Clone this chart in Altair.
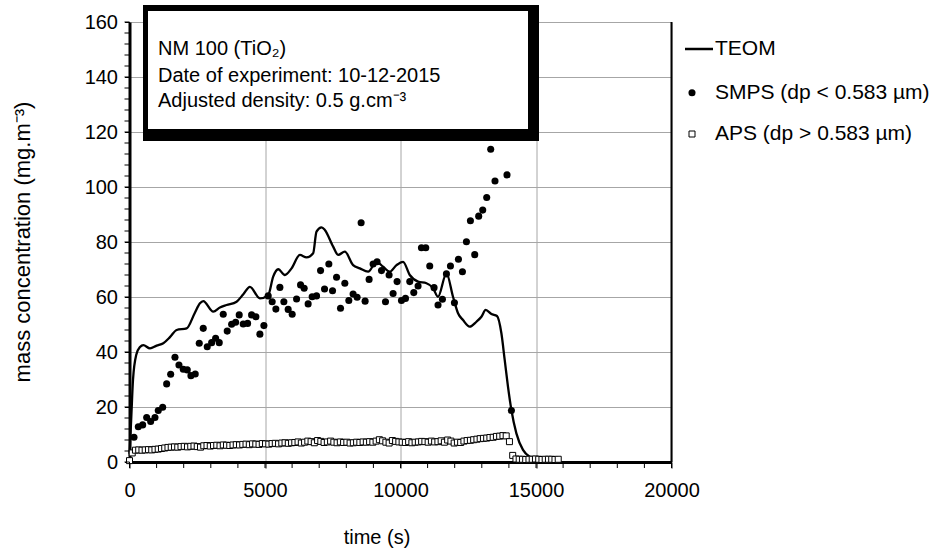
import altair as alt
import pandas as pd

# ---------------- data ----------------
teom_t = [0, 60, 130, 250, 387, 510, 756, 1000, 1247, 1500, 1740, 2109, 2400, 2600, 2722,
          3090, 3337, 3583, 3952, 4200, 4443, 4812, 5118, 5302, 5487, 5733, 5980, 6287,
          6533, 6777, 6900, 7086, 7208, 7515, 7700, 7946, 8251, 8499, 8806, 9114, 9358,
          9605, 9852, 10095, 10342, 10648, 10958, 11201, 11385, 11695, 11938, 12123,
          12307, 12554, 12801, 12986, 13144, 13354, 13561, 13723, 13845, 13966, 14092,
          14276, 14520, 14766, 15013, 15100]
teom_c = [3.0, 15.0, 30.0, 39.0, 41.8, 42.5, 41.3, 42.3, 43.2, 45.5, 48.0, 48.6, 54.0, 57.7, 58.5,
          54.7, 56.2, 57.1, 58.3, 61.0, 63.7, 59.5, 60.7, 67.4, 70.1, 68.0, 70.4, 75.3,
          74.4, 75.9, 83.8, 85.3, 84.4, 78.3, 75.3, 76.5, 71.6, 70.4, 69.2, 72.8, 71.0,
          69.2, 71.6, 72.8, 68.0, 65.6, 65.0, 63.2, 60.1, 68.6, 60.1, 54.1,
          51.6, 49.2, 51.0, 52.8, 55.3, 53.8, 53.1, 46.8, 37.1, 27.4, 18.9,
          10.4, 4.4, 1.9, 1.0, 0.6]

smps_t = [166, 325, 486, 634, 781, 940, 1062, 1224, 1371, 1519,
          1678, 1825, 1984, 2131, 2267, 2426, 2574, 2721, 2869, 3031,
          3178, 3311, 3459, 3606, 3768, 3916, 4048, 4196, 4358, 4505,
          4664, 4812, 4959, 5118, 5265, 5401, 5549, 5696, 5855, 6003,
          6165, 6312, 6445, 6592, 6740, 6902, 7050, 7197, 7356, 7492,
          7640, 7787, 7946, 8093, 8251, 8399, 8547, 8694, 8842, 8989,
          9136, 9299, 9446, 9579, 9727, 9874, 10036, 10184, 10342, 10490,
          10648, 10773, 10932, 11079, 11238, 11385, 11547, 11695, 11843, 11990,
          12138, 12285, 12433, 12580, 12739, 12886, 13034, 13181, 13329, 13487,
          13930, 14092]
smps_c = [9.0, 12.8, 13.5, 16.2, 14.7, 16.2, 18.7, 19.9, 28.4, 31.9,
          38.1, 35.3, 33.7, 33.5, 31.4, 32.0, 43.2, 48.6, 41.9, 43.4,
          45.0, 43.4, 53.7, 47.6, 50.1, 50.8, 53.5, 50.2, 50.4, 53.5,
          52.8, 46.5, 49.6, 60.4, 58.3, 55.6, 63.5, 58.3, 55.5, 53.7,
          59.3, 64.4, 63.2, 57.5, 60.1, 60.4, 69.6, 62.9, 72.0, 62.3,
          67.2, 55.9, 65.0, 58.7, 61.1, 59.9, 87.0, 58.5, 66.4, 72.0,
          72.8, 69.6, 58.3, 68.0, 61.3, 65.6, 58.7, 59.5, 65.6, 61.6,
          64.0, 77.9, 77.9, 71.3, 63.4, 57.1, 59.2, 68.4, 71.3, 57.9,
          73.7, 69.2, 80.1, 87.7, 75.4, 89.4, 91.6, 96.2, 113.7, 102.2,
          104.4, 18.7]

aps_t = [0, 100,
         220, 340, 460, 580, 700, 820, 940, 1060,
         1180, 1300, 1420, 1540, 1660, 1780, 1900, 2020,
         2140, 2260, 2380, 2500, 2620, 2740, 2860, 2980,
         3100, 3220, 3340, 3460, 3580, 3700, 3820, 3940,
         4060, 4180, 4300, 4420, 4540, 4660, 4780, 4900,
         5020, 5140, 5260, 5380, 5500, 5620, 5740, 5860,
         5980, 6100, 6220, 6340, 6460, 6580, 6700, 6820,
         6940, 7060, 7180, 7300, 7420, 7540, 7660, 7780,
         7900, 8020, 8140, 8260, 8380, 8500, 8620, 8740,
         8860, 8980, 9100, 9220, 9340, 9460, 9580, 9700,
         9820, 9940, 10060, 10180, 10300, 10420, 10540, 10660,
         10780, 10900, 11020, 11140, 11260, 11380, 11500, 11620,
         11740, 11860, 11980, 12100, 12220, 12340, 12460, 12580,
         12700, 12820, 12940, 13060, 13180, 13300, 13420, 13540,
         13660, 13780, 13900, 14020,
         14140,
         14260, 14380, 14500, 14620, 14740, 14860, 14980, 15100,
         15220, 15340, 15460, 15580, 15700, 15820]
aps_c = [0.5, 3.3,
         4.3, 4.4, 4.3, 4.4, 4.5, 4.4, 4.6, 4.7,
         4.9, 5.1, 5.3, 5.4, 5.5, 5.4, 5.6, 5.7,
         5.5, 5.7, 5.8, 5.6, 5.4, 5.9, 6.0, 5.8,
         6.0, 6.1, 5.9, 6.2, 6.1, 6.0, 6.2, 6.3,
         6.2, 6.4, 6.5, 6.3, 6.6, 6.5, 6.4, 6.7,
         6.6, 6.5, 6.7, 6.8, 6.6, 6.9, 7.0, 6.8,
         7.0, 7.1, 7.3, 6.9, 7.2, 7.6, 7.4, 7.0,
         7.8, 7.5, 7.1, 7.3, 7.6, 7.2, 7.0, 7.3,
         7.1, 7.2, 6.9, 7.0, 7.2, 7.1, 7.3, 7.2,
         7.4, 7.2, 7.6, 8.1, 7.7, 7.2, 6.9, 7.8,
         7.5, 7.3, 7.2, 7.1, 7.4, 7.0, 7.2, 7.3,
         7.5, 7.4, 7.2, 7.6, 7.3, 7.4, 7.7, 7.2,
         8.0, 7.6, 6.9, 7.2, 7.1, 7.6, 7.8, 7.9,
         8.1, 8.3, 8.5, 8.6, 8.7, 8.9, 9.0, 9.3,
         9.4, 9.6, 9.5, 7.4,
         2.4,
         1.1, 1.0, 1.0, 0.9, 1.0, 1.0, 1.1, 1.0,
         0.9, 1.0, 1.0, 1.0, 0.9, 1.0]

x_tick_values = [0, 5000, 10000, 15000, 20000]
y_tick_values = [0, 20, 40, 60, 80, 100, 120, 140, 160]
x_minor_ticks = [i * 1000 for i in range(21)]
y_minor_ticks = [i * 4 for i in range(41)]

box_lines = ["NM 100 (TiO\u2082)", "Date of experiment: 10-12-2015",
             "Adjusted density: 0.5 g.cm\u207b\u00b3"]
legend_labels = ["TEOM", "SMPS (dp < 0.583 \u00b5m)", "APS (dp > 0.583 \u00b5m)"]
x_title = "time (s)"
y_title = "mass concentration (mg.m\u207b\u00b3)"

# ---------------- chart ----------------
W, H = 542, 440
FONT = "Liberation Sans"
FS = 20

n = min(len(aps_t), len(aps_c))
teom = pd.DataFrame({"t": teom_t, "c": teom_c})
smps = pd.DataFrame({"t": smps_t, "c": smps_c})
aps = pd.DataFrame({"t": aps_t[:n], "c": aps_c[:n]})
xminor = pd.DataFrame({"t": x_minor_ticks})
yminor = pd.DataFrame({"c": y_minor_ticks})
one = pd.DataFrame({"k": [0]})

xscale = alt.Scale(domain=[0, 20000], nice=False, zero=False)
yscale = alt.Scale(domain=[0, 160], nice=False)

xaxis = alt.Axis(values=x_tick_values, format="d", grid=True, gridColor="#a6a6a6",
                 gridWidth=1, domainColor="black", domainWidth=3, tickColor="black",
                 tickSize=6, tickWidth=1, labelFont=FONT, labelFontSize=FS,
                 labelColor="black", labelPadding=12, labelFlush=False, title=None)
yaxis = alt.Axis(values=y_tick_values, format="d", grid=True, gridColor="#a6a6a6",
                 gridWidth=1, domainColor="black", domainWidth=3, tickColor="black",
                 tickSize=5, tickWidth=1, labelFont=FONT, labelFontSize=FS,
                 labelColor="black", labelPadding=7, labelFlush=False, title=None)

X = alt.X("t:Q", scale=xscale, axis=xaxis)
Y = alt.Y("c:Q", scale=yscale, axis=yaxis)

aps_layer = alt.Chart(aps).mark_point(shape="square", size=36, filled=True, fill="white",
                                      stroke="black", strokeWidth=1, opacity=1).encode(x=X, y=Y)
smps_layer = alt.Chart(smps).mark_circle(size=50, color="black", opacity=1).encode(x=X, y=Y)
teom_layer = alt.Chart(teom).mark_line(color="black", strokeWidth=2.3,
                                       interpolate="monotone").encode(x=X, y=Y)

xminor_layer = alt.Chart(xminor).mark_rule(color="black", strokeWidth=1).encode(
    x=X, y=alt.value(H), y2=alt.value(H + 6))
yminor_layer = alt.Chart(yminor).mark_rule(color="black", strokeWidth=1).encode(
    y=Y, x=alt.value(-5), x2=alt.value(0))
right_border = alt.Chart(one).mark_rule(color="black", strokeWidth=2).encode(
    x=alt.value(W), y=alt.value(0), y2=alt.value(H))

box_outer = alt.Chart(one).mark_rect(color="black").encode(
    x=alt.value(13.5), x2=alt.value(409.5), y=alt.value(-17), y2=alt.value(119))
box_inner = alt.Chart(one).mark_rect(color="white").encode(
    x=alt.value(18.5), x2=alt.value(398.5), y=alt.value(-11), y2=alt.value(107))

def txt(s, x, y, align="left", baseline="alphabetic", angle=0, size=FS):
    return alt.Chart(one).mark_text(align=align, baseline=baseline, angle=angle,
                                    font=FONT, fontSize=size, color="black").encode(
        x=alt.value(x), y=alt.value(y), text=alt.value(s))

box_text = [txt(box_lines[0], 28.5, 33), txt(box_lines[1], 28.5, 60), txt(box_lines[2], 28.5, 85)]

leg_line = alt.Chart(one).mark_rule(color="black", strokeWidth=2.5).encode(
    x=alt.value(555.5), x2=alt.value(583.5), y=alt.value(27))
leg_dot = alt.Chart(one).mark_circle(size=50, color="black", opacity=1).encode(
    x=alt.value(562.5), y=alt.value(70.7))
leg_sq = alt.Chart(one).mark_point(shape="square", size=36, filled=True, fill="white",
                                   stroke="black", strokeWidth=1, opacity=1).encode(
    x=alt.value(562.5), y=alt.value(112))
leg_text = [txt(legend_labels[0], 585.5, 27, baseline="middle", size=21),
            txt(legend_labels[1], 585.5, 70.7, baseline="middle", size=21),
            txt(legend_labels[2], 585.5, 112, baseline="middle", size=21)]

xt = txt(x_title, 247.5, 522, align="center")
yt = txt(y_title, -99.5, 220, align="center", angle=270, size=22)

chart = alt.layer(
    teom_layer, aps_layer, smps_layer, xminor_layer, yminor_layer, right_border,
    box_outer, box_inner, *box_text, leg_line, leg_dot, leg_sq, *leg_text, xt, yt
).properties(
    width=W, height=H,
    padding={"left": 129.5, "top": 22, "right": 264.5, "bottom": 91},
    autosize=alt.AutoSizeParams(type="none"),
    background="white",
).configure_view(stroke=None)

chart.save("out.html", embed_options={"renderer": "svg", "actions": False})
